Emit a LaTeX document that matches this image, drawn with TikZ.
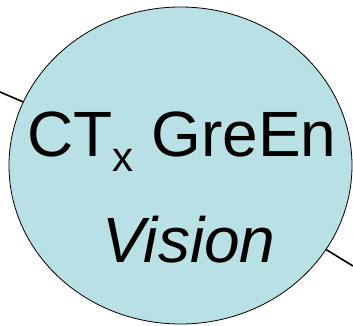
\documentclass[tikz,border=0pt]{standalone}
\usepackage{fontspec}
\setmainfont{Liberation Sans}
\usetikzlibrary{shapes.geometric}
\definecolor{bubble}{RGB}{185,224,228}
\tikzset{
  bubblenode/.style={ellipse, draw=black, fill=bubble, line width=0.8pt, inner sep=0pt,
    minimum width=343pt, minimum height=317pt},
  bigtext/.style={anchor=base, inner sep=0pt, font=\fontsize{64}{70}\selectfont},
  link/.style={draw=black, line width=1.6pt}
}
\begin{document}
\begin{tikzpicture}[x=1pt,y=1pt]
\useasboundingbox (0,0) rectangle (353,326);
\coordinate (l1) at (0,234);
\coordinate (r1) at (353,60);
\node[bubblenode] (e) at (180.5,160.5) {};
\draw[link] (l1) -- (e.158);
\draw[link] (e.-30.5) -- (r1);
\node[bigtext] (t1) at (182,169) {CT\raisebox{-15pt}{\fontsize{42}{46}\selectfont x} GreEn};
\node[bigtext] (t2) at (189,63) {\itshape Vision};
\end{tikzpicture}
\end{document}
